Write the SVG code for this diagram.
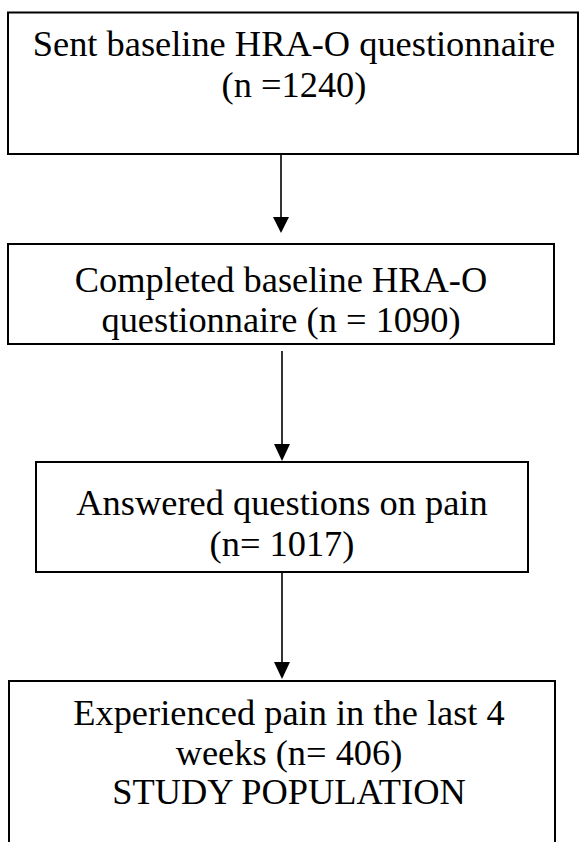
<svg xmlns="http://www.w3.org/2000/svg" width="580" height="842" viewBox="0 0 580 842">
<defs>
<style>
.box{fill:#fff;stroke:#000;stroke-width:2}
.t{font-family:"Liberation Serif","Times New Roman",serif;font-size:36.4px;fill:#000;text-anchor:middle}
.c{stroke:#000;stroke-width:1.6;fill:none}
.h{fill:#000}
</style>
</defs>
<rect width="580" height="842" fill="#fff"/>
<g id="n1">
<rect class="box" x="8" y="12.5" width="570" height="141.5"/>
<text class="t" x="294" y="56">Sent baseline HRA-O questionnaire</text>
<text class="t" x="294" y="97">(n =1240)</text>
</g>
<g id="n2">
<rect class="box" x="8" y="244" width="546" height="100"/>
<text class="t" x="281" y="292">Completed baseline HRA-O</text>
<text class="t" x="281" y="332">questionnaire (n = 1090)</text>
</g>
<g id="n3">
<rect class="box" x="36" y="462" width="492" height="110"/>
<text class="t" x="282" y="515">Answered questions on pain</text>
<text class="t" x="282" y="556">(n= 1017)</text>
</g>
<g id="n4">
<rect class="box" x="9" y="681" width="546" height="180"/>
<text class="t" x="289" y="725">Experienced pain in the last 4</text>
<text class="t" x="289" y="765">weeks (n= 406)</text>
<text class="t" x="289" y="804">STUDY POPULATION</text>
</g>
<g id="connectors">
<line class="c" x1="281" y1="155" x2="281" y2="220"/>
<polygon class="h" points="273,217 289,217 281,233"/>
<line class="c" x1="282" y1="351" x2="282" y2="448"/>
<polygon class="h" points="274,444 290,444 282,461"/>
<line class="c" x1="282" y1="573" x2="282" y2="665"/>
<polygon class="h" points="274,662 290,662 282,679"/>
</g>
</svg>
